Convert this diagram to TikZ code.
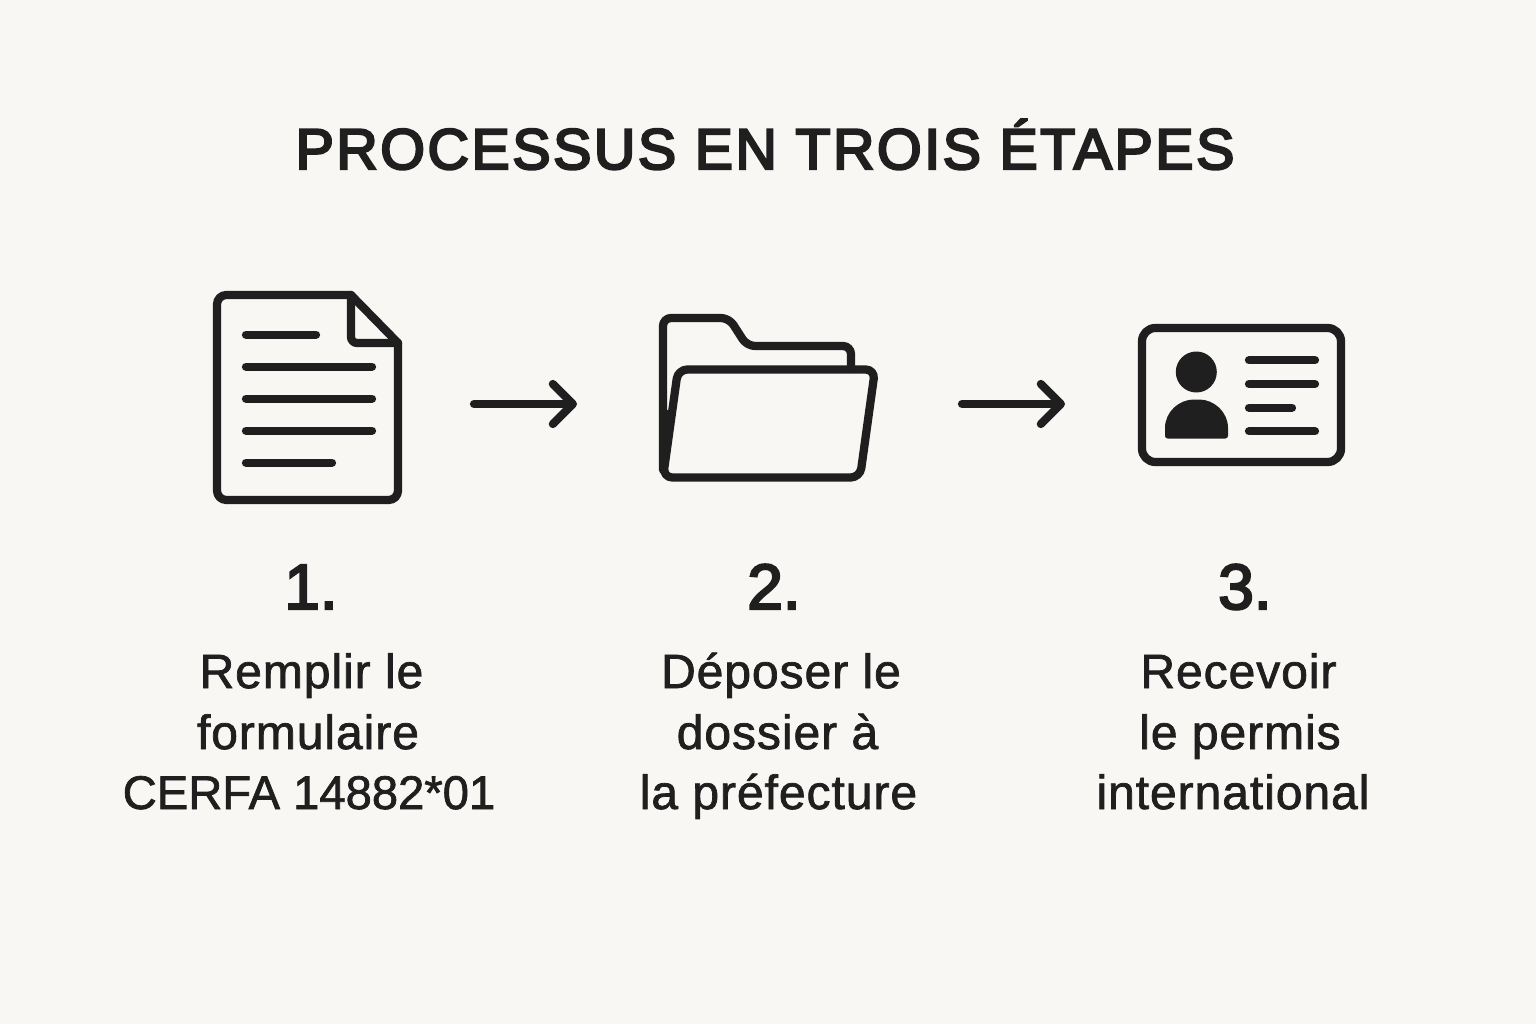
\documentclass[tikz,border=0pt]{standalone}
\usepackage{fontspec}
\setmainfont{Liberation Sans}
\newfontfamily\titlefont[LetterSpace=4.5,RawFeature={embolden=4}]{Liberation Sans}
\newfontfamily\numberfont[RawFeature={embolden=3.5}]{Liberation Sans}
\newfontfamily\bodyfont[LetterSpace=2,RawFeature={embolden=1.5}]{Liberation Sans}
\newfontfamily\capsfont[RawFeature={embolden=1.5}]{Liberation Sans}
\usetikzlibrary{arrows.meta}

\definecolor{inkcolor}{RGB}{31,31,31}
\definecolor{papercolor}{RGB}{249,247,243}

\tikzset{every picture/.style={line width=0.75pt}}
\tikzset{
  iconline/.style={color=inkcolor,line width=6.2pt,line cap=round,line join=round},
  steparrow/.style={iconline,-{Straight Barb[length=15pt,width=30pt,round]}},
  titletext/.style={color=inkcolor,inner sep=0pt,anchor=base,font=\titlefont\fontsize{43}{50}\selectfont},
  stepnumber/.style={color=inkcolor,inner sep=0pt,anchor=base,font=\numberfont\fontsize{48}{50}\selectfont},
  steptext/.style={color=inkcolor,inner sep=0pt,anchor=base,font=\bodyfont\fontsize{36}{42}\selectfont},
  capstext/.style={color=inkcolor,inner sep=0pt,anchor=base,font=\capsfont\fontsize{35.4}{42}\selectfont}
}

\begin{document}
\begin{tikzpicture}[x=0.75pt,y=0.75pt,yscale=-1,xscale=1]
  \useasboundingbox (0,0) rectangle (1536,1024);
  %Background
  \fill [papercolor] (0,0) rectangle (1536,1024);

  % Text Node
  \draw (765,169) node (title) [titletext] {PROCESSUS EN TROIS ÉTAPES};

  %Shape: Document
  \draw [iconline,rounded corners=7pt] (351,295) -- (217,295) -- (217,500) -- (398,500) -- (398,343);
  \draw [iconline] (351,295) -- (398,343);
  \draw [iconline,rounded corners=4.5pt] (351,295) -- (351,343) -- (398,343);
  %Straight Lines
  \draw [iconline] (246,334.7) -- (316,334.7);
  \draw [iconline] (246,366.7) -- (372,366.7);
  \draw [iconline] (246,398.7) -- (372,398.7);
  \draw [iconline] (246,430.7) -- (372,430.7);
  \draw [iconline] (246,462.7) -- (332,462.7);

  %Shape: Folder
  \draw [iconline,rounded corners=6pt] (663,470) -- (663,318) -- (729,318) -- (747,346) -- (851,346) -- (851,369);
  \draw [iconline,rounded corners=7pt] (678,369.5) -- (875,369.5) -- (860,477.5) -- (663,477.5) -- cycle;
  \fill [inkcolor] (663,465) -- (663,410) -- (671,410) -- cycle;

  %Shape: Card
  \draw [iconline,rounded corners=10pt] (1142,328) rectangle (1341,462);
  \fill [inkcolor] (1196.3,372) circle (20.5);
  \fill [inkcolor,rounded corners=2pt] (1165,438.5) -- (1165,430.5) .. controls (1165,412) and (1179,399.5) .. (1196.5,399.5) .. controls (1214,399.5) and (1228,412) .. (1228,430.5) -- (1228,438.5) -- cycle;
  %Straight Lines
  \draw [iconline] (1249,360.3) -- (1315,360.3);
  \draw [iconline] (1249,384) -- (1315,384);
  \draw [iconline] (1249,407.7) -- (1292,407.7);
  \draw [iconline] (1249,431.3) -- (1315,431.3);

  %Arrows
  \coordinate (formend) at (474,404);
  \coordinate (folderstart) at (577,404);
  \coordinate (folderend) at (962,404);
  \coordinate (cardstart) at (1065,404);
  \draw [steparrow] (formend) -- (folderstart);
  \draw [steparrow] (folderend) -- (cardstart);

  % Text Node
  \draw (311,609) node (numone) [stepnumber] {1.};
  % Text Node
  \draw (774,609) node (numtwo) [stepnumber] {2.};
  % Text Node
  \draw (1245,609) node (numthree) [stepnumber] {3.};

  % Text Node
  \draw (311.5,688) node (remplir) [steptext] {Remplir le};
  \draw (308,749) node (formulaire) [steptext] {formulaire};
  \draw (309,809) node (cerfa) [capstext] {CERFA 14882*01};
  % Text Node
  \draw (781,688) node (deposer) [steptext] {Déposer le};
  \draw (777.5,749) node (dossier) [steptext] {dossier à};
  \draw (778.5,809) node (prefecture) [steptext] {la préfecture};
  % Text Node
  \draw (1238.5,688) node (recevoir) [steptext] {Recevoir};
  \draw (1240,749) node (permis) [steptext] {le permis};
  \draw (1233,809) node (international) [steptext] {international};
\end{tikzpicture}
\end{document}
